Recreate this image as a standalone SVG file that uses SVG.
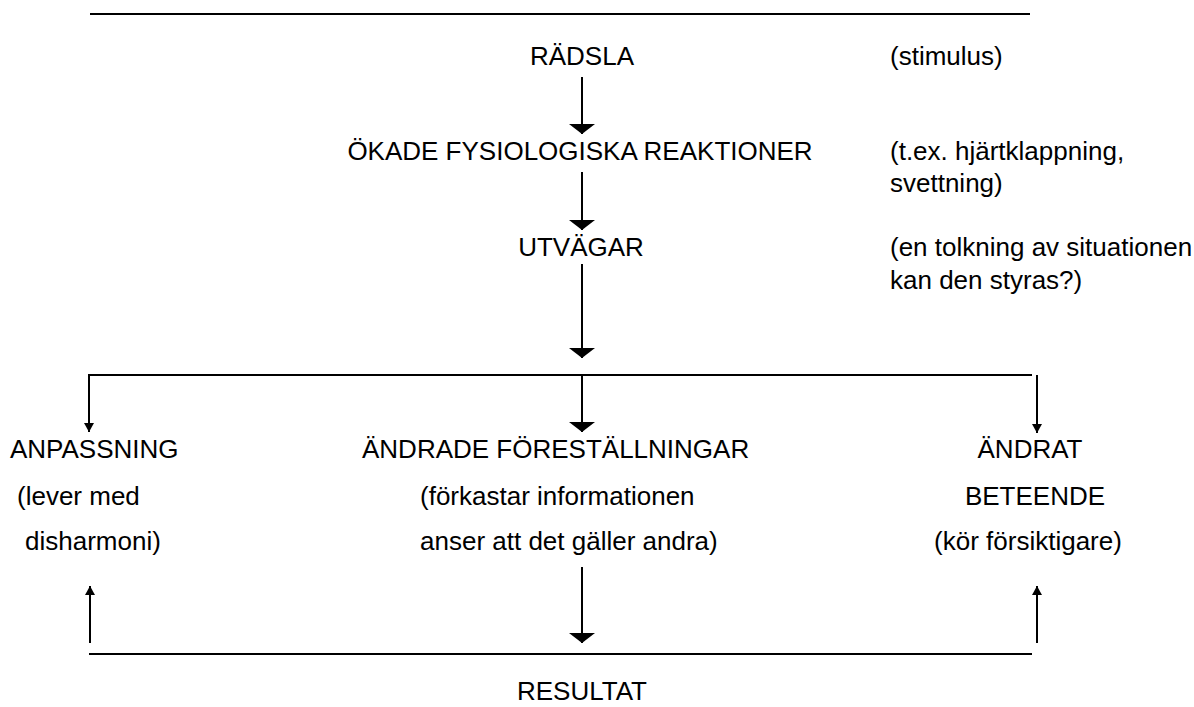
<svg xmlns="http://www.w3.org/2000/svg" width="1194" height="707" viewBox="0 0 1194 707">
<style>
text{font-family:"Liberation Sans",Arial,sans-serif;font-size:26px;fill:#000}
.m{text-anchor:middle}
.ln{stroke:#000;stroke-width:2;fill:none}
</style>
<defs>
<marker id="big" markerUnits="userSpaceOnUse" viewBox="0 -13 10 26" refX="10" refY="0" markerWidth="10" markerHeight="26" orient="auto"><path d="M0,-13 L10,0 L0,13 z" fill="#000"/></marker>
<marker id="small" markerUnits="userSpaceOnUse" viewBox="0 -5 9 10" refX="9" refY="0" markerWidth="9" markerHeight="10" orient="auto"><path d="M0,-5 L9,0 L0,5 z" fill="#000"/></marker>
</defs>
<rect width="1194" height="707" fill="#fff"/>
<g id="connectors">
<line class="ln" x1="90" y1="14" x2="1030" y2="14"/>
<line class="ln" x1="582" y1="77" x2="582" y2="134" marker-end="url(#big)"/>
<line class="ln" x1="582" y1="172" x2="582" y2="230" marker-end="url(#big)"/>
<line class="ln" x1="582" y1="264" x2="582" y2="358" marker-end="url(#big)"/>
<line class="ln" x1="89" y1="375" x2="1032" y2="375"/>
<line class="ln" x1="89" y1="374" x2="89" y2="432" marker-end="url(#small)"/>
<line class="ln" x1="582" y1="375" x2="582" y2="432" marker-end="url(#big)"/>
<line class="ln" x1="1037" y1="375" x2="1037" y2="433" marker-end="url(#small)"/>
<line class="ln" x1="90" y1="643" x2="90" y2="586" marker-end="url(#small)"/>
<line class="ln" x1="582" y1="567" x2="582" y2="643" marker-end="url(#big)"/>
<line class="ln" x1="1037" y1="643" x2="1037" y2="586" marker-end="url(#small)"/>
<line class="ln" x1="89" y1="654" x2="1032" y2="654"/>
</g>
<g id="radsla"><text class="m" x="582" y="65">RÄDSLA</text></g>
<g id="stimulus"><text x="890" y="65">(stimulus)</text></g>
<g id="okade"><text class="m" x="580" y="160">ÖKADE FYSIOLOGISKA REAKTIONER</text></g>
<g id="tex"><text x="890" y="160">(t.ex. hjärtklappning,</text><text x="890" y="192">svettning)</text></g>
<g id="utvagar"><text class="m" x="581" y="256">UTVÄGAR</text></g>
<g id="tolkning"><text x="890" y="256">(en tolkning av situationen</text><text x="890" y="289">kan den styras?)</text></g>
<g id="anpassning"><text x="10" y="458">ANPASSNING</text><text x="17" y="505">(lever med</text><text x="25" y="550">disharmoni)</text></g>
<g id="forestallningar"><text x="362" y="458">ÄNDRADE FÖRESTÄLLNINGAR</text><text x="420" y="505">(förkastar informationen</text><text x="420" y="550">anser att det gäller andra)</text></g>
<g id="beteende"><text class="m" x="1030" y="458">ÄNDRAT</text><text class="m" x="1035" y="505">BETEENDE</text><text class="m" x="1028" y="550">(kör försiktigare)</text></g>
<g id="resultat"><text class="m" x="582" y="700">RESULTAT</text></g>
</svg>
